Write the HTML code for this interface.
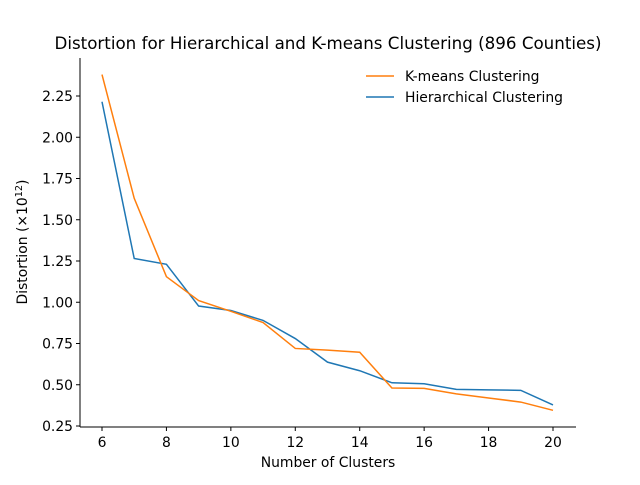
<!DOCTYPE html>
<html><head><meta charset="utf-8"><style>body{margin:0;background:#fff}svg{font-family:"DejaVu Sans","Liberation Sans",sans-serif}</style></head>
<body>
<svg id="chart" width="640" height="480">
<text x="328" y="49" text-anchor="middle" font-size="16.7">Distortion for Hierarchical and K-means Clustering (896 Counties)</text>
<g id="axes"></g>
<text x="328" y="467" text-anchor="middle" font-size="13.9">Number of Clusters</text>
<text transform="translate(27,242) rotate(-90)" text-anchor="middle" font-size="13.9">Distortion (×10<tspan dy="-5" font-size="9.7">12</tspan><tspan dy="5">)</tspan></text>
<g>
<line x1="366" y1="76" x2="394" y2="76" stroke="#ff7f0e" stroke-width="1.5"/>
<text x="405" y="81" font-size="13.9">K-means Clustering</text>
<line x1="366" y1="97" x2="394" y2="97" stroke="#1f77b4" stroke-width="1.5"/>
<text x="405" y="102" font-size="13.9">Hierarchical Clustering</text>
</g>
</svg>
<script>
const clusters=[6,7,8,9,10,11,12,13,14,15,16,17,18,19,20];
const kmeans=[2.38,1.63,1.155,1.01,0.945,0.877,0.72,0.71,0.697,0.48,0.478,0.445,0.42,0.395,0.345];
const hier=[2.215,1.265,1.23,0.977,0.95,0.89,0.78,0.637,0.585,0.512,0.506,0.472,0.469,0.466,0.378];
const xTicks=[6,8,10,12,14,16,18,20];
const yTicks=[0.25,0.5,0.75,1.0,1.25,1.5,1.75,2.0,2.25];
const X=v=>102+(v-6)*(553-102)/14;
const Y=v=>426-(v-0.25)*165;
const ns="http://www.w3.org/2000/svg";
const g=document.getElementById('axes');
function mk(t,a){const e=document.createElementNS(ns,t);for(const k in a)e.setAttribute(k,a[k]);g.appendChild(e);return e;}
let e=mk('line',{x1:80,y1:427,x2:80,y2:58,stroke:'#000','stroke-width':1});


e=mk('line',{x1:80,y1:427,x2:576,y2:427,stroke:'#000','stroke-width':1});


xTicks.forEach(t=>{
 let l=mk('line',{x1:X(t),y1:427,x2:X(t),y2:431,stroke:'#000'});
 
 
 let s=mk('text',{x:X(t),y:447,'text-anchor':'middle','font-size':13.9});s.textContent=t;
 
 
});
yTicks.forEach(t=>{
 let l=mk('line',{x1:76,y1:Y(t),x2:80,y2:Y(t),stroke:'#000'});
 
 
 let s=mk('text',{x:73,y:Y(t)+5,'text-anchor':'end','font-size':13.9});s.textContent=t.toFixed(2);
 
 
});
function line(vals,c,name){
 let p=mk('polyline',{points:clusters.map((x,i)=>X(x)+','+Y(vals[i])).join(' '),fill:'none',stroke:c,'stroke-width':1.5});
 
 
}
line(hier,'#1f77b4','hierarchical-line');
line(kmeans,'#ff7f0e','kmeans-line');
</script>
</body></html>
